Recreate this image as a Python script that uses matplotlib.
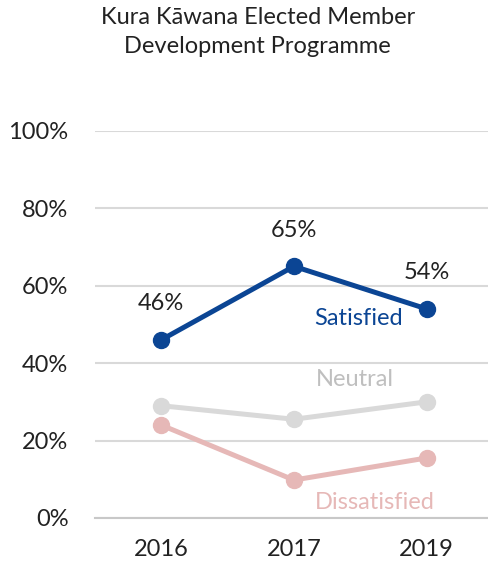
import matplotlib.pyplot as plt
from matplotlib.ticker import PercentFormatter

plt.rcParams["font.family"] = ["Lato", "DejaVu Sans"]

years = ["2016", "2017", "2019"]
satisfied = [0.46, 0.65, 0.54]
neutral = [0.29, 0.255, 0.30]
dissatisfied = [0.24, 0.098, 0.155]

c_sat = "#0B4594"
c_neu = "#D9D9D9"
c_dis = "#E6B8B7"
fs = 17

fig = plt.figure(figsize=(4.89, 5.65), dpi=100)
ax = fig.add_axes([0.194, 0.0832, 0.806, 0.6853])

x = range(len(years))
ax.plot(x, dissatisfied, marker="o", color=c_dis, lw=3.6, ms=11.5, clip_on=False, zorder=3)
ax.plot(x, neutral, marker="o", color=c_neu, lw=3.6, ms=11.5, clip_on=False, zorder=3)
ax.plot(x, satisfied, marker="o", color=c_sat, lw=3.6, ms=11.5, clip_on=False, zorder=4)

for i, v in enumerate(satisfied):
    ax.annotate(f"{v:.0%}", (i, v), xytext=(0, 26), textcoords="offset points",
                ha="center", va="center", fontsize=fs, color="#222222")

ax.text(1.49, 0.515, "Satisfied", color=c_sat, fontsize=fs, ha="center", va="center")
ax.text(1.46, 0.357, "Neutral", color="#BFBFBF", fontsize=fs, ha="center", va="center")
ax.text(1.61, 0.04, "Dissatisfied", color=c_dis, fontsize=fs, ha="center", va="center")

ax.set_xlim(-0.5, 2.47)
ax.set_ylim(0, 1)
ax.set_xticks(list(x))
ax.set_xticklabels(years)
ax.set_yticks([0, 0.2, 0.4, 0.6, 0.8, 1.0])
ax.yaxis.set_major_formatter(PercentFormatter(1.0, decimals=0))
ax.tick_params(length=0, labelsize=fs, labelcolor="#222222")
ax.tick_params(axis="y", pad=19)
ax.tick_params(axis="x", pad=15)
ax.grid(axis="y", color="#D9D9D9", lw=1.5)
ax.set_axisbelow(True)
for s in ["top", "right", "left"]:
    ax.spines[s].set_visible(False)
ax.spines["bottom"].set_color("#C8C8C8")
ax.spines["bottom"].set_linewidth(1.5)

fig.text(0.527, 0.943, "Kura Kāwana Elected Member\nDevelopment Programme",
         ha="center", va="center", fontsize=fs, linespacing=1.45, color="#222222")

fig.savefig("out.png", dpi=100)
